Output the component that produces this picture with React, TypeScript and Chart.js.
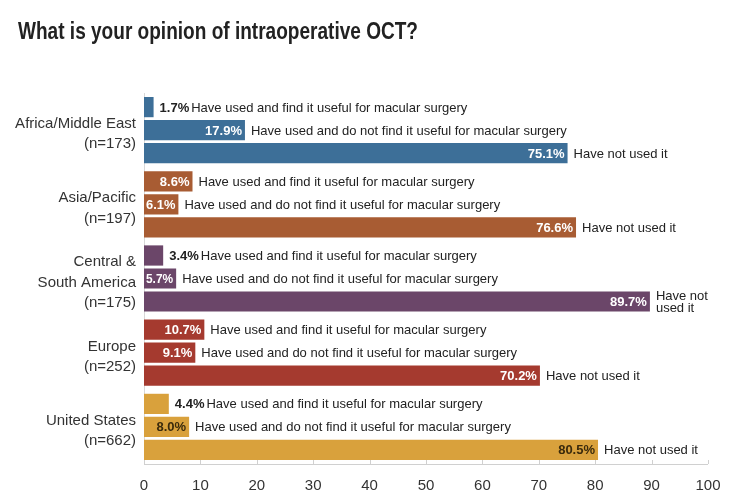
import React, { useEffect, useRef } from "react";
import { Chart, registerables } from "chart.js";

Chart.register(...registerables);

const regions = [
  ["Africa/Middle East", "(n=173)"],
  ["Asia/Pacific", "(n=197)"],
  ["Central &", "South America", "(n=175)"],
  ["Europe", "(n=252)"],
  ["United States", "(n=662)"],
];
const usefulValues = [1.7, 8.6, 3.4, 10.7, 4.4];
const notUsefulValues = [17.9, 6.1, 5.7, 9.1, 8.0];
const notUsedValues = [75.1, 76.6, 89.7, 70.2, 80.5];
const seriesNames = [
  ["Have used and find it useful for macular surgery"],
  ["Have used and do not find it useful for macular surgery"],
  ["Have not used it"],
];
const regionColors = ["#3d6f98", "#a85c33", "#6b4669", "#a53a2f", "#d9a13c"];
const valueTextColors = ["#ffffff", "#ffffff", "#ffffff", "#ffffff", "#3a2a0c"];
const xTicks = [0, 10, 20, 30, 40, 50, 60, 70, 80, 90, 100];
const title = "What is your opinion of intraoperative OCT?";

const FONT = "'Liberation Sans', Arial, sans-serif";

export default function App() {
  const ref = useRef<HTMLCanvasElement | null>(null);
  useEffect(() => {
    if (!ref.current) return;
    const labelPlugin = {
      id: "labels",
      afterDatasetsDraw(chart: any) {
        const ctx = chart.ctx;
        ctx.save();
        // title (slightly compressed horizontally like the reference)
        ctx.font = `bold 23px ${FONT}`;
        ctx.fillStyle = "#222";
        ctx.textAlign = "left";
        ctx.textBaseline = "alphabetic";
        const tw = ctx.measureText(title).width;
        ctx.save();
        ctx.translate(18, 39);
        ctx.scale(Math.min(1, 400 / tw), 1);
        ctx.fillText(title, 0, 0);
        ctx.restore();
        // axis line with inward ticks
        const xs = chart.scales.x;
        const bottom = chart.chartArea.bottom;
        ctx.strokeStyle = "#d0d0d0";
        ctx.lineWidth = 1;
        ctx.beginPath();
        ctx.moveTo(xs.getPixelForValue(0), bottom + 0.5);
        ctx.lineTo(xs.getPixelForValue(100), bottom + 0.5);
        xTicks.forEach((t) => {
          const px = Math.round(xs.getPixelForValue(t)) + 0.5;
          ctx.moveTo(px, bottom);
          ctx.lineTo(px, bottom - 4);
        });
        ctx.stroke();
        // bar labels
        chart.data.datasets.forEach((ds: any, di: number) => {
          const meta = chart.getDatasetMeta(di);
          meta.data.forEach((bar: any, i: number) => {
            const v = ds.data[i];
            const txt = v.toFixed(1) + "%";
            const x0 = bar.base;
            const x1 = bar.x;
            const y = bar.y;
            ctx.font = `bold 13px ${FONT}`;
            const w = ctx.measureText(txt).width;
            let descX;
            ctx.textBaseline = "middle";
            if (v >= 5) {
              ctx.fillStyle = valueTextColors[i];
              ctx.textAlign = "right";
              ctx.fillText(txt, x1 - 3, y + 1, Math.max(10, x1 - x0 - 5));
              descX = x1 + 6;
            } else {
              ctx.fillStyle = "#222";
              ctx.textAlign = "left";
              ctx.fillText(txt, x1 + 6, y + 1);
              descX = x1 + 6 + w + 2;
            }
            ctx.font = `13px ${FONT}`;
            ctx.fillStyle = "#222";
            ctx.textAlign = "left";
            let lines = seriesNames[di];
            if (di === 2 && i === 2) lines = ["Have not", "used it"];
            const lh = 12;
            lines.forEach((l, li) => {
              ctx.fillText(l, descX, y + 1 + (li - (lines.length - 1) / 2) * lh);
            });
          });
        });
        ctx.restore();
      },
    };
    const mk = (vals: number[], k: number) => ({
      label: seriesNames[k][0],
      data: vals,
      backgroundColor: regionColors,
      borderWidth: 0,
      categoryPercentage: 0.93,
      barPercentage: 0.88,
    });
    const chart = new Chart(ref.current, {
      type: "bar",
      data: {
        labels: regions,
        datasets: [mk(usefulValues, 0), mk(notUsefulValues, 1), mk(notUsedValues, 2)],
      },
      options: {
        indexAxis: "y",
        animation: false,
        responsive: false,
        maintainAspectRatio: false,
        layout: { padding: { top: 93, right: 22, left: 0, bottom: 0 } },
        plugins: {
          legend: { display: false },
          tooltip: { enabled: false },
          title: { display: false },
        },
        scales: {
          x: {
            min: 0,
            max: 100,
            grid: { display: false },
            border: { display: false },
            ticks: {
              stepSize: 10,
              padding: 5,
              color: "#333",
              font: { family: FONT, size: 15 },
            },
            afterFit: (s: any) => {
              s.height = 37;
            },
          },
          y: {
            grid: { display: false },
            border: { display: true, color: "#d8d8d8" },
            ticks: {
              padding: 0,
              labelOffset: 4,
              color: "#333",
              font: { family: FONT, size: 15, lineHeight: 1.35 },
            },
            afterFit: (s: any) => {
              s.width = 144;
            },
          },
        },
      },
      plugins: [labelPlugin],
    });
    return () => chart.destroy();
  }, []);
  return (
    <div style={{ position: "absolute", left: 0, top: 0, width: 730, height: 501, background: "#fff" }}>
      <canvas ref={ref} width={730} height={501} style={{ display: "block" }} />
    </div>
  );
}
